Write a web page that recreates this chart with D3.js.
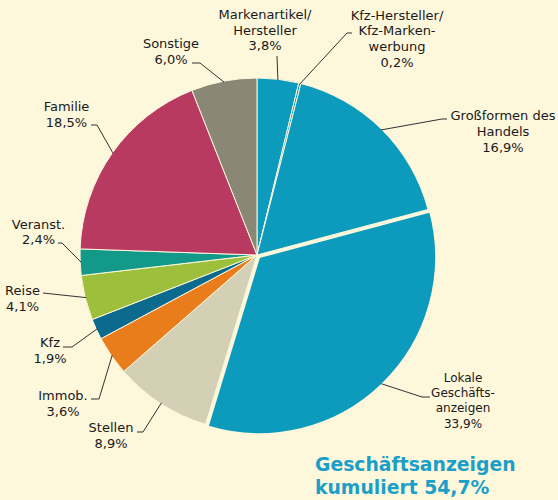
<!DOCTYPE html>
<html><head><meta charset="utf-8">
<script src="https://cdn.jsdelivr.net/npm/d3@7"></script>
<style>
html,body{margin:0;padding:0;background:#fdf7dc;}
svg{display:block;}
</style></head>
<body>
<svg id="chart" width="558" height="500"></svg>
<script>
// ---- data ----
const categories = ["Markenartikel/ Hersteller","Kfz-Hersteller/ Kfz-Marken- werbung","Großformen des Handels","Lokale Geschäfts- anzeigen","Stellen","Immob.","Kfz","Reise","Veranst.","Familie","Sonstige"];
const labelLines = [["Markenartikel/","Hersteller"],["Kfz-Hersteller/","Kfz-Marken-","werbung"],["Großformen des","Handels"],["Lokale","Geschäfts-","anzeigen"],["Stellen"],["Immob."],["Kfz"],["Reise"],["Veranst."],["Familie"],["Sonstige"]];
const shares = [3.8,0.2,16.9,33.9,8.9,3.6,1.9,4.1,2.4,18.5,6.0];
const valueLabels = ["3,8%","0,2%","16,9%","33,9%","8,9%","3,6%","1,9%","4,1%","2,4%","18,5%","6,0%"];
const colors = ["#0c9abd","#0c9abd","#0c9abd","#0c9abd","#d3d0b6","#ea7d1b","#0b6a8e","#9dbf3b","#12998a","#b83a60","#8b8775"];
const titleLines = ["Geschäftsanzeigen","kumuliert 54,7%"];

// ---- layout (label anchor, baseline of first line, line height, leader path points) ----
const layout = [
  {x:265,y:19,lh:15.5,fs:13,pts:[[277,56]]},
  {x:397,y:19.5,lh:15.8,fs:13,pts:[[347,33],[352,33]]},
  {x:503,y:120,lh:16,fs:13,pts:[[442,119],[447,119]]},
  {x:463,y:382,lh:15.2,fs:12,pts:[[422,397],[430,397]]},
  {x:111,y:432,lh:15.5,fs:13,pts:[[143,432],[137,432]]},
  {x:63,y:400,lh:15.5,fs:13,pts:[[99,399],[91,399]]},
  {x:50,y:347,lh:15.5,fs:13,pts:[[72,347],[63,347]]},
  {x:22.5,y:295,lh:15.5,fs:13,pts:[[43,293]]},
  {x:38.5,y:229,lh:14.5,fs:13,pts:[[62,243],[58,243]]},
  {x:66.5,y:111,lh:15.5,fs:13,pts:[[97,125],[91,125]]},
  {x:171,y:48,lh:15.5,fs:13,pts:[[200,63],[192,63]]}
];

const W=558,H=500,cx=257,cy=255,R=177;
const svg=d3.select("#chart");
svg.append("rect").attr("width",W).attr("height",H).attr("fill","#fdf7dc");

const pie=d3.pie().sort(null).value(d=>d)(shares);
const arc=d3.arc().innerRadius(0).outerRadius(R);
const g=svg.append("g").attr("transform",`translate(${cx},${cy})`);
const explode=i=>i===3?3:0;
g.selectAll("path").data(pie).join("path")
  .attr("d",arc)
  .attr("fill",(d,i)=>colors[i])
  .attr("stroke","#fdf7dc").attr("stroke-width",(d,i)=>i===3?2:1)
  .attr("stroke-linejoin","round")
  .attr("transform",(d,i)=>{const a=(d.startAngle+d.endAngle)/2,o=explode(i);return `translate(${o*Math.sin(a)},${-o*Math.cos(a)})`;});

// leaders
const line=d3.line();
pie.forEach((d,i)=>{
  const a=(d.startAngle+d.endAngle)/2;
  const r=R+explode(i)-1;
  const start=[cx+r*Math.sin(a),cy-r*Math.cos(a)];
  svg.append("path").attr("d",line([start,...layout[i].pts]))
    .attr("fill","none").attr("stroke","#333").attr("stroke-width",1);
});

// labels
pie.forEach((d,i)=>{
  const L=layout[i];
  const lines=[...labelLines[i],valueLabels[i]];
  const t=svg.append("text").attr("text-anchor","middle")
    .attr("font-family","DejaVu Sans, Verdana, sans-serif").attr("font-size",L.fs)
    .attr("fill","#1a1a1a");
  lines.forEach((s,k)=>t.append("tspan").attr("x",L.x).attr("y",L.y+k*L.lh).text(s));
});

// title
const tt=svg.append("text").attr("font-family","DejaVu Sans, Verdana, sans-serif")
  .attr("font-weight","bold").attr("font-size",18.8).attr("fill","#1b9fc8");
titleLines.forEach((s,k)=>tt.append("tspan").attr("x",315).attr("y",471+k*23).text(s));
</script>
</body></html>
